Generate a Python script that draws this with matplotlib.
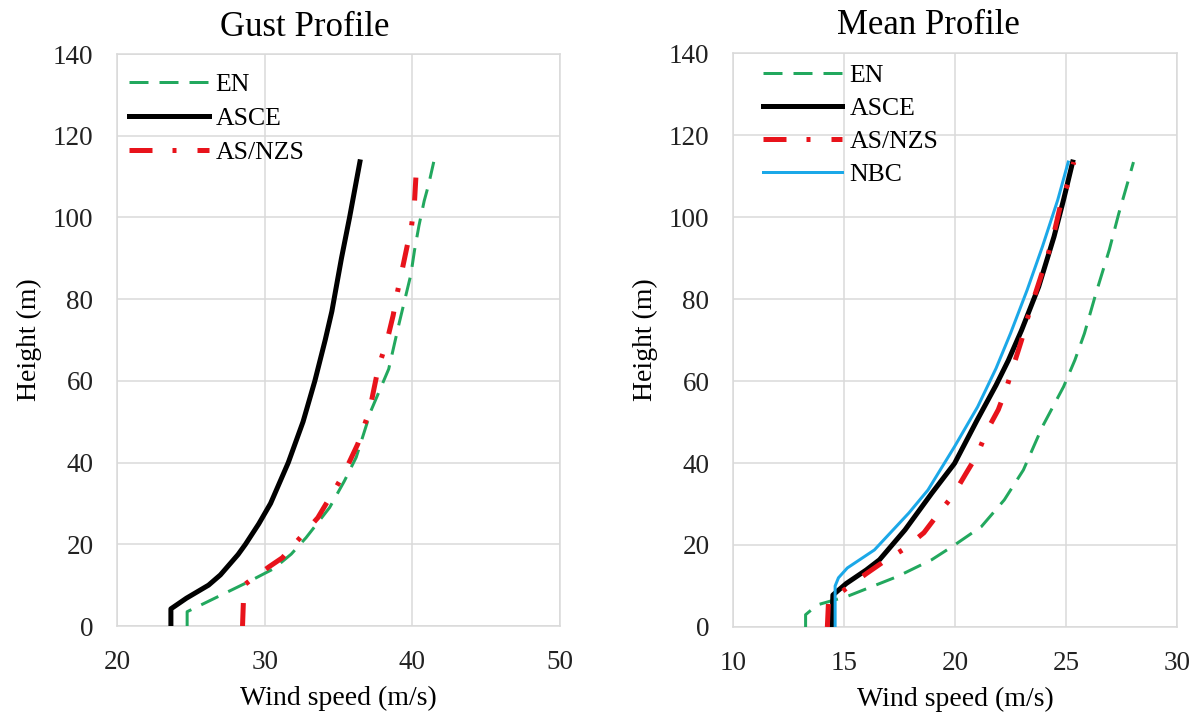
import matplotlib
matplotlib.use("Agg")
import matplotlib.pyplot as plt

plt.rcParams['font.family'] = ['Liberation Serif', 'DejaVu Serif']
plt.rcParams['lines.scale_dashes'] = False

# ---------------- Gust profile data ----------------
gust_en_h = [0, 3.5, 11, 14, 17.6, 21.6, 29, 35.5, 41.3, 52.7, 62.9, 74, 80, 86, 92, 98, 104, 108, 113.6]
gust_en_v = [24.75, 24.75, 29.0, 30.6, 31.8, 32.8, 34.4, 35.4, 36.2, 37.2, 38.4, 39.1, 39.5, 39.9, 40.15, 40.45, 40.8, 41.1, 41.45]

gust_asce_h = [0, 4.2, 6.8, 10, 12.5, 15, 17.5, 20, 25, 30, 35, 40, 45, 50, 60, 70, 77, 90, 100, 113.6]
gust_asce_v = [23.65, 23.65, 24.7, 26.2, 27.0, 27.6, 28.2, 28.7, 29.6, 30.4, 31.0, 31.6, 32.1, 32.6, 33.4, 34.1, 34.55, 35.2, 35.75, 36.45]

gust_asnzs_h = [0, 10, 11.1, 14.5, 16.7, 26.5, 36.8, 44.5, 52.7, 63.3, 70, 76, 81, 87, 93, 98, 104, 113.6]
gust_asnzs_v = [28.5, 28.6, 29.0, 30.3, 31.2, 33.6, 35.3, 36.3, 37.1, 37.7, 38.3, 38.7, 38.95, 39.3, 39.65, 39.95, 40.15, 40.3]

# ---------------- Mean profile data ----------------
mean_en_h = [0, 3.0, 5.4, 7.5, 12.3, 16.4, 20, 24.5, 31, 38.3, 48.9, 58.6, 65.1, 71.6, 81.4, 92, 100.9, 109, 113.4]
mean_en_v = [13.27, 13.27, 13.8, 15.16, 17.4, 18.95, 19.98, 21.19, 22.22, 23.08, 23.94, 24.89, 25.4, 25.83, 26.35, 26.95, 27.38, 27.81, 28.04]

mean_asce_h = [0, 7.8, 10.6, 13.9, 16.4, 23.7, 32.6, 39.9, 50.5, 59, 65, 72.4, 83, 95.2, 104.2, 113.4]
mean_asce_v = [14.45, 14.5, 15.1, 16.0, 16.6, 17.75, 18.95, 19.98, 21.0, 21.85, 22.4, 23.0, 23.77, 24.46, 24.89, 25.3]

mean_asnzs_h = [0, 6, 9, 13, 16, 19, 23, 28, 32, 37.5, 42, 48, 53, 58, 64, 70, 75, 81, 91, 97, 104, 109, 113.4]
mean_asnzs_v = [14.25, 14.3, 15.0, 16.0, 16.8, 17.7, 18.6, 19.3, 19.9, 20.5, 21.0, 21.45, 21.95, 22.3, 22.65, 23.0, 23.25, 23.6, 24.2, 24.5, 24.8, 25.15, 25.35]

mean_nbc_h = [0, 10, 12, 14.4, 18.8, 27.8, 33.4, 44, 53.7, 63.1, 71.6, 82.2, 92.8, 104.2, 113.4]
mean_nbc_v = [14.6, 14.6, 14.75, 15.15, 16.37, 17.92, 18.78, 19.98, 21.02, 21.85, 22.5, 23.25, 23.94, 24.63, 25.1]

labels = ["EN", "ASCE", "AS/NZS", "NBC"]
gust_xticks = [20, 30, 40, 50]
mean_xticks = [10, 15, 20, 25, 30]
yticks = [0, 20, 40, 60, 80, 100, 120, 140]

GREEN = '#22a85e'
BLACK = '#000000'
RED = '#e8131b'
BLUE = '#1ba8e8'
GRID = '#d9d9d9'

PX = 0.72  # points per pixel at dpi 100

fig = plt.figure(figsize=(11.99, 7.19), dpi=100)
axL = fig.add_axes([117/1199, 1-626/719, 443/1199, 572/719])
axR = fig.add_axes([733/1199, 1-627/719, 444/1199, 574/719])

def style_en(ax, x, y):
    ax.plot(x, y, color=GREEN, lw=3*PX, dashes=(19*PX, 11*PX), label=labels[0], zorder=3)

def style_asce(ax, x, y):
    ax.plot(x, y, color=BLACK, lw=5*PX, label=labels[1], zorder=4, solid_joinstyle='round')

def style_asnzs(ax, x, y):
    ax.plot(x, y, color=RED, lw=5*PX, dashes=(23*PX, 20*PX, 4*PX, 21*PX), label=labels[2], zorder=5)

def style_nbc(ax, x, y):
    ax.plot(x, y, color=BLUE, lw=3*PX, label=labels[3], zorder=6, solid_joinstyle='round')

style_en(axL, gust_en_v, gust_en_h)
style_asce(axL, gust_asce_v, gust_asce_h)
style_asnzs(axL, gust_asnzs_v, gust_asnzs_h)

style_en(axR, mean_en_v, mean_en_h)
style_asce(axR, mean_asce_v, mean_asce_h)
style_asnzs(axR, mean_asnzs_v, mean_asnzs_h)
style_nbc(axR, mean_nbc_v, mean_nbc_h)

for ax, xt in ((axL, gust_xticks), (axR, mean_xticks)):
    ax.set_xlim(xt[0], xt[-1])
    ax.set_ylim(yticks[0], yticks[-1])
    ax.set_xticks(xt)
    ax.set_yticks(yticks)
    ax.grid(True, color=GRID, lw=1.5*PX, zorder=0)
    ax.set_axisbelow(True)
    for s in ax.spines.values():
        s.set_color(GRID)
        s.set_linewidth(1.5*PX)
    ax.tick_params(length=0, labelsize=19.5, pad=17, colors='#222222')
    ax.set_xlabel("Wind speed (m/s)", fontsize=20, labelpad=8)
    ax.set_ylabel("Height (m)", fontsize=20, labelpad=8)

fig.text(305/1199, 1-27/719, "Gust Profile", fontsize=25, ha='center', va='center')
fig.text(928/1199, 1-25/719, "Mean Profile", fontsize=25, ha='center', va='center')

legkw = dict(frameon=False, fontsize=18.5, handlelength=3.1, handletextpad=0.27,
             borderpad=0, borderaxespad=0, loc='upper left')
axL.legend(bbox_to_anchor=(0.027, 0.966), labelspacing=0.42, **legkw)
axR.legend(bbox_to_anchor=(0.067, 0.981), labelspacing=0.39, **legkw)

fig.savefig("out.png", dpi=100)
